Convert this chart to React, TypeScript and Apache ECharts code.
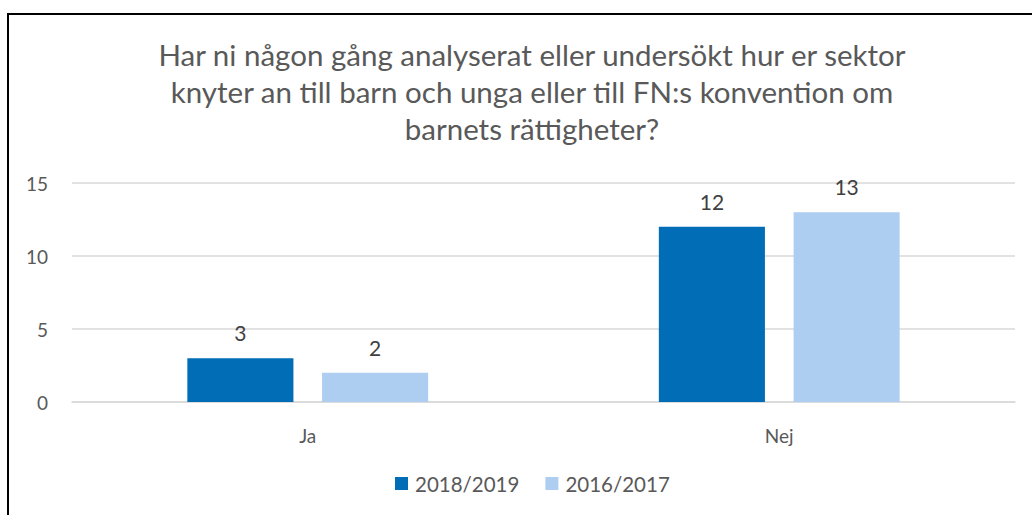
import React, { useEffect, useRef } from "react";
import * as echarts from "echarts";

const titleLines = [
  "Har ni någon gång analyserat eller undersökt hur er sektor",
  "knyter an till barn och unga eller till FN:s konvention om",
  "barnets rättigheter?",
];
const categories = ["Ja", "Nej"];
const seriesNames = ["2018/2019", "2016/2017"];
const values2018 = [3, 12];
const values2016 = [2, 13];
const colors = ["#006DB6", "#ADCEF0"];

const FONT = "Lato, 'Open Sans', sans-serif";

export default function App() {
  const ref = useRef<HTMLDivElement>(null);
  useEffect(() => {
    if (!ref.current) return;
    const chart = echarts.init(ref.current, null, { renderer: "svg" });
    const label = {
      show: true,
      position: "top",
      distance: 15,
      color: "#404040",
      fontSize: 21,
      fontFamily: FONT,
    };
    chart.setOption({
      animation: false,
      title: {
        text: titleLines.join("\n"),
        left: 527,
        textAlign: "center",
        top: 31,
        textStyle: {
          color: "#595959",
          fontSize: 29.5,
          fontWeight: "normal",
          fontFamily: FONT,
          lineHeight: 37,
        },
      },
      legend: {
        data: seriesNames,
        bottom: 16,
        left: 390,
        itemWidth: 13,
        itemHeight: 13,
        itemGap: 26,
        icon: "rect",
        textStyle: { color: "#595959", fontSize: 20.5, fontFamily: FONT, padding: [0, 0, 0, 2] },
      },
      grid: { left: 72, right: 17, top: 183, bottom: 113, containLabel: false },
      xAxis: {
        type: "category",
        data: categories,
        axisLine: { lineStyle: { color: "#D9D9D9", width: 1.5 } },
        axisTick: { show: false },
        axisLabel: { color: "#595959", fontSize: 19, fontFamily: FONT, margin: 24 },
      },
      yAxis: {
        type: "value",
        min: 0,
        max: 15,
        interval: 5,
        axisLine: { show: false },
        axisTick: { show: false },
        axisLabel: { color: "#595959", fontSize: 19, fontFamily: FONT, margin: 24 },
        splitLine: { lineStyle: { color: "#D9D9D9", width: 1.5 } },
      },
      series: [
        {
          name: seriesNames[0],
          type: "bar",
          data: values2018,
          barWidth: "22.5%",
          barGap: "27%",
          itemStyle: { color: colors[0] },
          label,
        },
        {
          name: seriesNames[1],
          type: "bar",
          data: values2016,
          barWidth: "22.5%",
          barGap: "27%",
          itemStyle: { color: colors[1] },
          label,
        },
      ],
    });
    return () => chart.dispose();
  }, []);
  return (
    <div style={{ position: "fixed", left: 0, top: 0, width: 1032, height: 515, background: "#fff" }}>
      <div
        style={{
          position: "absolute",
          left: 7,
          top: 13,
          width: 1030,
          height: 520,
          borderTop: "2px solid #000",
          borderLeft: "2px solid #000",
          boxSizing: "border-box",
        }}
      />
      <div ref={ref} style={{ position: "absolute", left: 0, top: 0, width: 1032, height: 515 }} />
    </div>
  );
}
